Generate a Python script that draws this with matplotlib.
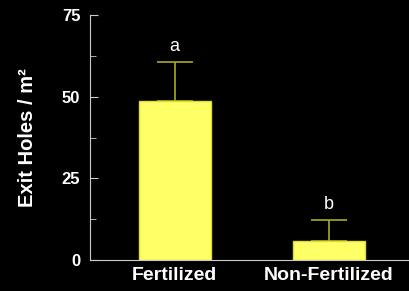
import numpy as np
import matplotlib.pyplot as plt
from matplotlib.ticker import MultipleLocator

plt.rcParams["font.family"] = ["Liberation Sans", "DejaVu Sans"]

groups = ["Fertilized", "Non-Fertilized"]
means = [48.7, 5.7]
errs = [11.9, 6.5]
letters = ["a", "b"]

fig = plt.figure(figsize=(4.09, 2.91), dpi=100, facecolor="black")
ax = fig.add_axes([0.22, 0.1065, 0.78, 0.8415], facecolor="black")

x = np.arange(len(groups))
ax.bar(x, means, width=0.47, color="#ffff66", edgecolor="#dddd33", linewidth=1, zorder=2)
ax.errorbar(x, means, yerr=[[0, 0], errs], fmt="none", ecolor="#aaaa22",
            elinewidth=1.2, capsize=13, capthick=1.2, zorder=1)
for xi, m, e, l in zip(x, means, errs, letters):
    ax.text(xi, m + e + 2.3, l, color="white", ha="center", va="bottom", fontsize=13)

ax.set_xlim(-0.55, 1.52)
ax.set_ylim(0, 75)
ax.yaxis.set_major_locator(MultipleLocator(25))
ax.yaxis.set_minor_locator(MultipleLocator(12.5))
ax.set_xticks(x)
ax.set_xticklabels(groups, fontsize=14, fontweight="bold", color="white")
ax.tick_params(axis="x", length=0, pad=5)
ax.tick_params(axis="y", which="major", direction="in", length=6, color="#cccccc",
               labelcolor="white", labelsize=12, pad=7)
ax.tick_params(axis="y", which="minor", direction="in", length=4, color="#cccccc")
for lab in ax.get_yticklabels():
    lab.set_fontweight("bold")
for s in ["top", "right"]:
    ax.spines[s].set_visible(False)
for s in ["left", "bottom"]:
    ax.spines[s].set_color("#cccccc")
ax.set_ylabel("Exit Holes / m²", color="white", fontsize=14.5, fontweight="bold", labelpad=18)

fig.savefig("out.png", dpi=100, facecolor="black")
